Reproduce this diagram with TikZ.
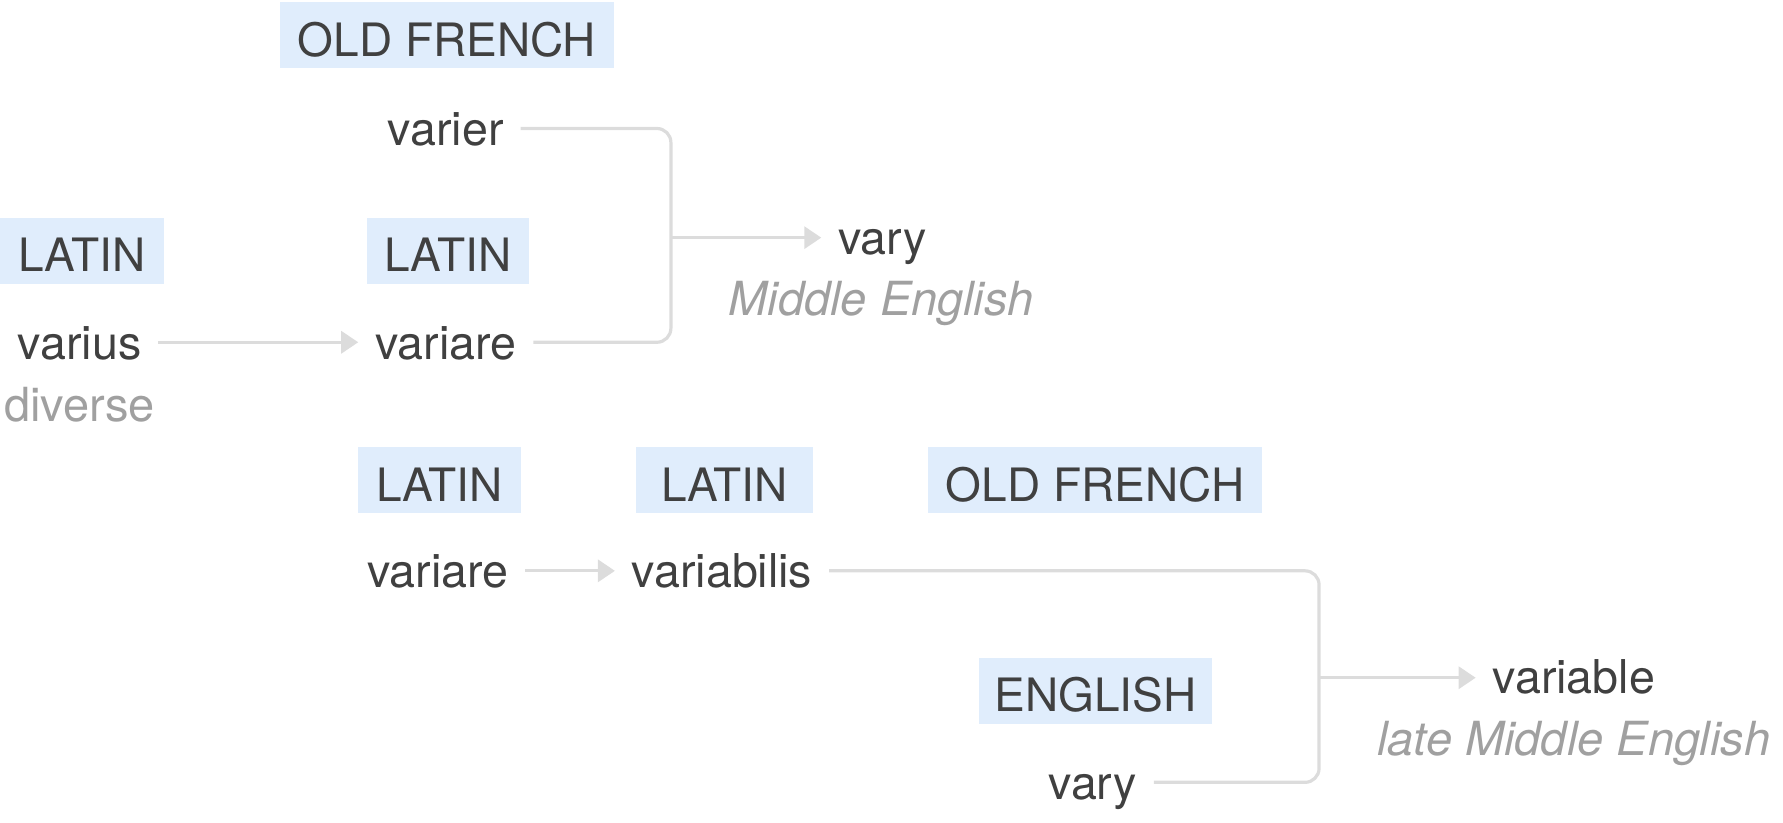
\documentclass[tikz,border=0pt]{standalone}
\usepackage{fontspec}
\setmainfont{TeX Gyre Heros}
\usetikzlibrary{arrows.meta}
\definecolor{lblfill}{HTML}{E0EDFC}
\definecolor{txt}{HTML}{404040}
\definecolor{soft}{HTML}{A0A0A0}
\definecolor{conn}{HTML}{DCDCDC}
\tikzset{
  lang/.style={fill=lblfill, text=txt, font=\fontsize{23}{27}\selectfont,
    minimum height=33pt, inner xsep=0pt, text height=21pt, text depth=0pt},
  word/.style={text=txt, font=\fontsize{23.3}{27}\selectfont, inner xsep=0pt,
    inner ysep=0pt, outer xsep=8.5pt, text height=16.8pt, text depth=0pt},
  gloss/.style={text=soft, font=\fontsize{23.5}{27}\selectfont, inner sep=0pt,
    text height=12.2pt, text depth=0pt},
  conn/.style={draw=conn, line width=1.6pt, rounded corners=7pt},
  arr/.style={conn, -{Triangle[length=8.5pt, width=11pt]}},
}
\begin{document}
\begin{tikzpicture}[x=0.56855pt, y=-0.56855pt]
\useasboundingbox (0,0) rectangle (1568,723);
% language labels
\node[lang, minimum width=294*0.56855pt] (lofr1) at (393,31) {OLD FRENCH};
\node[lang, minimum width=144*0.56855pt] (llat1) at (72,220.5) {LATIN};
\node[lang, minimum width=142*0.56855pt] (llat2) at (394,220.5) {LATIN};
\node[lang, minimum width=143*0.56855pt] (llat3) at (386.5,422.5) {LATIN};
\node[lang, minimum width=156*0.56855pt] (llat4) at (637,422.5) {LATIN};
\node[lang, minimum width=294*0.56855pt] (lofr2) at (963,422.5) {OLD FRENCH};
\node[lang, minimum width=205*0.56855pt] (leng) at (963.5,607.5) {ENGLISH};
% words
\node[word] (varier) at (392,113) {varier};
\node[word] (varius) at (70,301) {varius};
\node[gloss] (diverse) at (70,360) {diverse};
\node[word] (variare1) at (392,301) {variare};
\node[word] (vary1) at (776,209) {vary};
\node[gloss, font=\fontsize{23.5}{27}\selectfont\itshape] (me1) at (775,267) {Middle English};
\node[word] (variare2) at (385,502) {variare};
\node[word] (variabilis) at (635,502) {variabilis};
\node[word] (vary2) at (961,688) {vary};
\node[word] (variable) at (1384,595) {variable};
\node[gloss, font=\fontsize{23.5}{27}\selectfont\itshape] (me2) at (1384,654) {late Middle English};
% junctions
\coordinate (j1) at (590,209);
\coordinate (j2) at (1160,596);
% connectors
\draw[arr] (varius.east) -- (variare1.west);
\draw[conn] (varier.east) -- (varier.east -| j1) -- (variare1.east -| j1) -- (variare1.east);
\draw[arr] (j1) -- (j1 -| vary1.west);
\draw[arr] (variare2.east) -- (variabilis.west);
\draw[conn] (variabilis.east) -- (variabilis.east -| j2) -- (vary2.east -| j2) -- (vary2.east);
\draw[arr] (j2) -- (j2 -| variable.west);
\end{tikzpicture}
\end{document}
